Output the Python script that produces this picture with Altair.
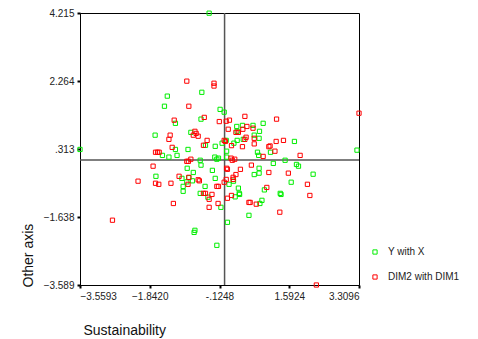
import altair as alt
import pandas as pd

green_x = [-0.38, -0.56, -1.41, -1.48, -0.11, -0.01, -0.58, -1.21, 0.95, 0.30, 0.44, 0.70, 0.86, 0.31,
           -1.71, -0.83, 0.85, 0.73, 0.46, 0.31, 0.04, 0.23, -0.06, -0.23, -0.47, 1.72, 3.26, -3.5593,
           -1.21, -0.90, -1.53, -1.37, -1.17, 0.81, 0.84, 1.13, 0.05, 0.05, -0.24, -0.19, -0.15, -0.60,
           -0.58, 1.20, 1.49, 1.77, 1.82, -0.92, -0.77, -0.30, 0.85, 0.85, 0.73, 2.18, -1.69, -1.05,
           -0.88, -0.79, -0.23, -0.93, 0.11, 0.22, 1.64, -0.48, 0.34, 0.98, 0.36, 0.37, 0.26, 0.92,
           0.87, 0.60, 1.37, 1.39, -1.02, -0.60, -0.41, -0.09, 0.07, -0.73, -0.75, -0.19, -1.02]
green_y = [4.21, 1.94, 1.83, 1.54, 1.45, 1.37, 1.17, 1.05, 1.05, 0.96, 0.99, 0.99, 0.82, 0.82,
           0.71, 0.79, 0.62, 0.71, 0.59, 0.56, 0.56, 0.48, 0.48, 0.39, 0.42, 0.53, 0.28, 0.30,
           0.30, 0.30, 0.13, 0.08, 0.13, 0.22, 0.13, 0.22, 0.25, 0.08, 0.08, 0.02, 0.05, -0.01,
           -0.15, -0.10, -0.01, -0.13, -0.18, -0.24, -0.36, -0.30, -0.24, -0.38, -0.42, -0.41, -0.47, -0.53,
           -0.51, -0.60, -0.53, -0.63, -0.70, -0.61, -0.64, -0.76, -0.81, -0.86, -0.96, -0.99, -1.06, -1.16,
           -1.25, -1.59, -0.96, -0.99, -0.90, -0.96, -1.07, -1.36, -1.79, -2.02, -2.08, -2.45, -0.76]

red_x = [-0.93, -0.26, -0.26, -0.88, 3.31, 0.50, -0.50, 1.28, -1.24, -0.13, 0.04, 0.12, 0.55, 0.70,
         0.45, 0.09, 0.34, 0.28, -1.34, -0.73, -0.70, -0.77, -0.65, -1.37, 0.73, 0.53, 0.50, -0.43,
         -0.01, 0.02, 0.17, -0.52, 0.73, 0.44, 1.09, 1.12, 1.27, 1.45, -1.70, -1.65, -1.61, -1.29,
         1.24, 0.95, 1.86, 0.16, 0.25, 0.19, -0.93, -0.89, -0.83, 0.66, -1.76, 0.05, 0.07, 0.39,
         1.09, 1.57, 0.28, -0.88, -1.12, -0.65, -0.62, 0.21, 0.21, 0.04, -0.01, -2.13, -1.70, -1.62,
         -1.32, -0.90, 2.04, -0.19, -0.15, 1.04, 0.17, 0.07, 0.78, 0.63, 0.60, 1.36, 2.10, -0.52,
         -0.47, -0.31, -0.38, -1.26, -0.16, -0.38, -2.76, 2.26]
red_y = [2.26, 2.20, 2.12, 1.54, 1.34, 1.25, 1.22, 1.17, 1.14, 1.10, 1.11, 1.14, 0.96, 0.91,
         0.88, 0.88, 0.79, 0.79, 0.71, 0.82, 0.76, 0.71, 0.68, 0.59, 0.62, 0.65, 0.59, 0.56,
         0.56, 0.53, 0.41, 0.42, 0.46, 0.38, 0.38, 0.40, 0.53, 0.56, 0.22, 0.22, 0.22, 0.36,
         0.25, 0.10, 0.13, 0.05, 0.02, -0.01, -0.04, -0.04, 0.02, -0.15, -0.18, -0.24, -0.27, -0.27,
         -0.36, -0.38, -0.42, -0.50, -0.47, -0.57, -0.60, -0.50, -0.56, -0.56, -0.64, -0.61, -0.67, -0.70,
         -0.67, -0.70, -0.70, -0.76, -0.76, -0.79, -1.02, -1.10, -1.27, -1.22, -1.22, -1.50, -1.02, -0.96,
         -0.96, -0.99, -1.13, -1.25, -1.25, -1.36, -1.73, -3.589]

series_names = ["Y with X", "DIM2 with DIM1"]
series_colors = ["#00ee00", "#ff0000"]
x_ticks = [-3.5593, -1.8420, -0.1248, 1.5924, 3.3096]
y_ticks = [-3.589, -1.638, 0.313, 2.264, 4.215]

df = pd.concat([
    pd.DataFrame({"x": green_x, "y": green_y, "series": series_names[0]}),
    pd.DataFrame({"x": red_x, "y": red_y, "series": series_names[1]}),
], ignore_index=True)

xscale = alt.Scale(domain=[x_ticks[0], x_ticks[-1]], nice=False, zero=False)
yscale = alt.Scale(domain=[y_ticks[0], y_ticks[-1]], nice=False, zero=False)

points = alt.Chart(df).mark_point(shape="square", filled=False, size=18, strokeWidth=1, opacity=1, clip=False).encode(
    x=alt.X("x:Q", scale=xscale, axis=alt.Axis(
        values=x_ticks, title="Sustainability",
        labelExpr="datum.value > -0.2 && datum.value < 0 ? '-.1248' : format(datum.value, '.4f')",
        titleAnchor="start", titleAlign="left", titleX=3, titleY=45, titleBaseline="middle")),
    y=alt.Y("y:Q", scale=yscale, axis=alt.Axis(
        values=y_ticks, title="Other axis",
        labelExpr="datum.value > 0.3 && datum.value < 0.4 ? '.313' : format(datum.value, '.3f')",
        titleAngle=-90, titleAlign="left", titleBaseline="bottom", titleX=-45, titleY=274)),
    color=alt.Color("series:N", scale=alt.Scale(domain=series_names, range=series_colors),
                    legend=alt.Legend(title=None, orient="none", legendX=290, legendY=234,
                                      symbolType="square", symbolSize=18, symbolStrokeWidth=1,
                                      symbolFillColor="transparent",
                                      rowPadding=15, labelFontSize=10, labelColor="#222",
                                      labelFont="Liberation Sans", labelOffset=8)),
)

vline = alt.Chart(pd.DataFrame({"v": [0.0]})).mark_rule(color="#555", strokeWidth=1.5).encode(
    x=alt.X("v:Q", scale=xscale))
hline = alt.Chart(pd.DataFrame({"v": [0.0]})).mark_rule(color="#555", strokeWidth=1.5).encode(
    y=alt.Y("v:Q", scale=yscale))

chart = alt.layer(vline, hline, points).properties(
    width=279, height=272,
    autosize=alt.AutoSizeParams(type="none"),
    padding={"left": 80, "top": 13, "right": 119, "bottom": 54},
    background="white",
).configure_view(stroke="black", strokeWidth=1).configure_axis(
    grid=False, domainColor="black", domainWidth=1, tickColor="black", tickSize=3, tickWidth=2,
    labelFont="Liberation Sans", labelFontSize=10, labelColor="#222", labelPadding=3,
    titleFont="Liberation Sans", titleFontSize=14, titleFontWeight="normal", titleColor="#111",
)

chart.save("out.html", embed_options={"renderer": "svg", "actions": False})
